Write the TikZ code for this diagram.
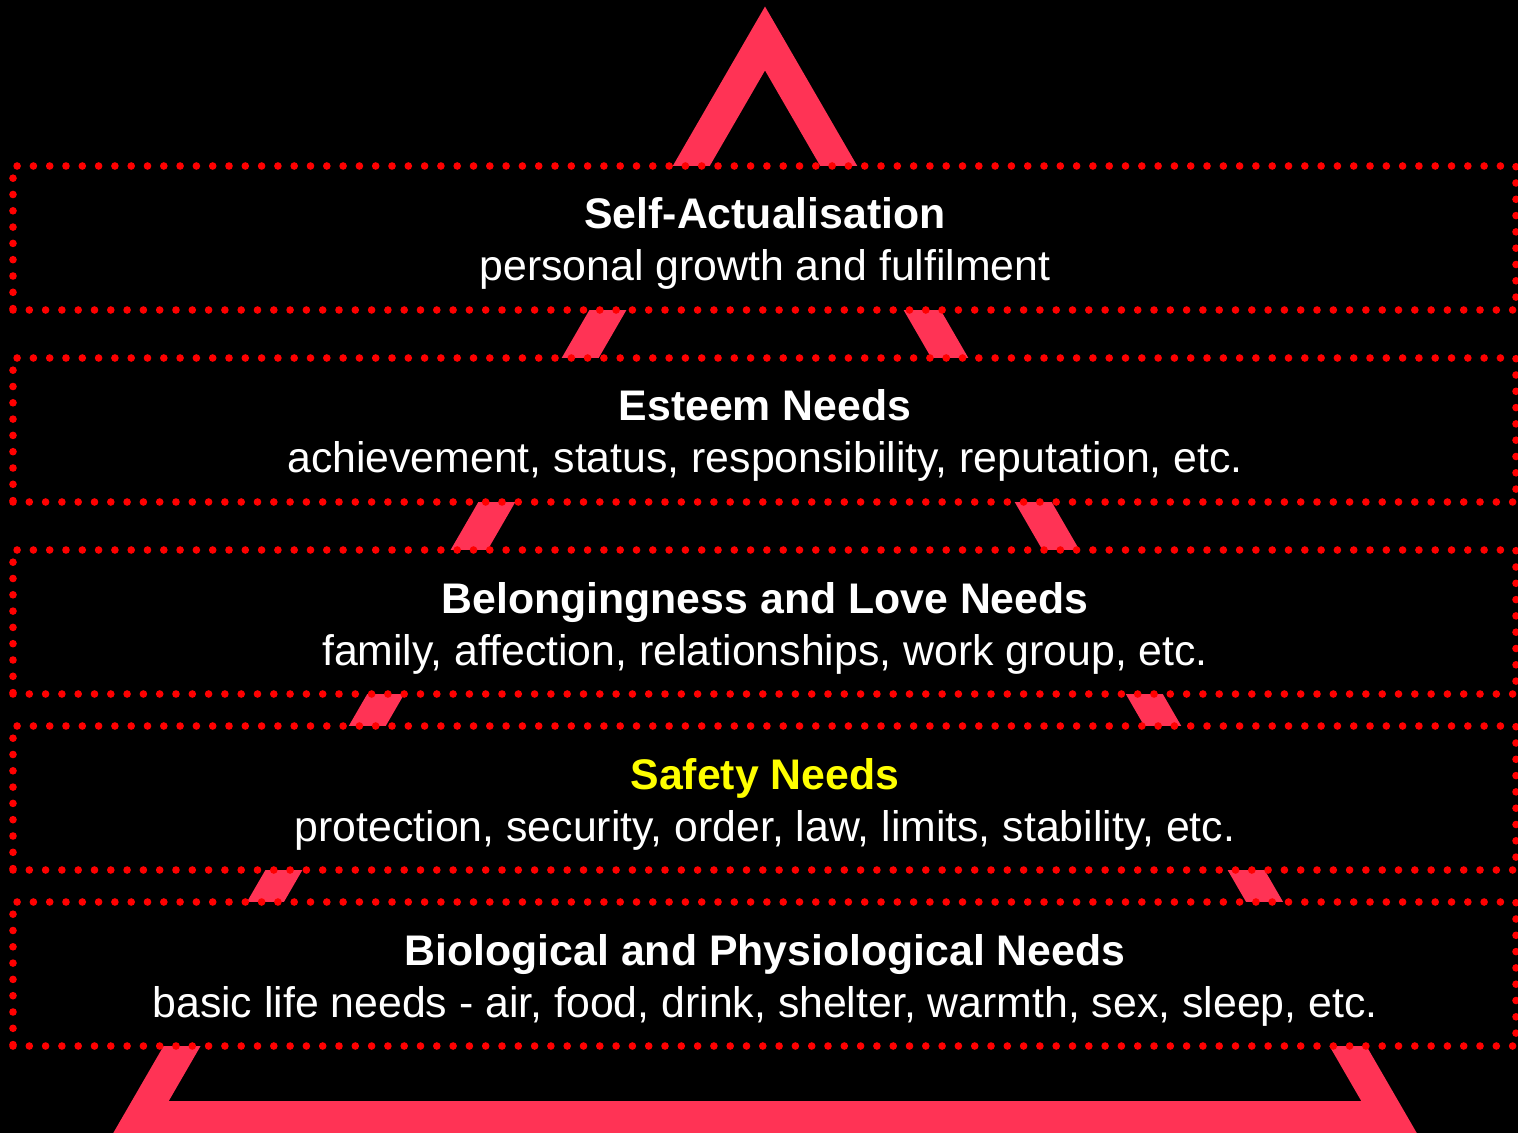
\documentclass[tikz,border=0pt]{standalone}
\usepackage{fontspec}
\setmainfont{Liberation Sans}
\usepackage{xcolor}
\usepackage{tikz}
\definecolor{pyramidred}{RGB}{255,51,85}
\definecolor{dotred}{RGB}{255,0,0}
\definecolor{safetyyellow}{RGB}{255,255,0}
\tikzset{
  tierbox/.style={draw=dotred, fill=black, line width=3.8pt, line cap=round,
                  dash pattern=on 0pt off 8.15pt, minimum width=751.5pt,
                  minimum height=72pt, inner sep=0pt},
  headtext/.style={anchor=base, text=white, inner sep=0pt,
                   font=\fontsize{21.4}{25}\selectfont\bfseries},
  subtext/.style={anchor=base, text=white, inner sep=0pt,
                  font=\fontsize{21.4}{25}\selectfont},
  pyramid/.style={draw=pyramidred, line width=16pt, line join=miter}
}

\begin{document}
\begin{tikzpicture}[x=0.5pt, y=-0.5pt]

% Background
\fill[black] (0,0) rectangle (1518,1133);
\useasboundingbox (0,0) rectangle (1518,1133);

% Pyramid outline (behind the tiers)
\coordinate (apex) at (765,38.5);
\coordinate (baseL) at (141,1117);
\coordinate (baseR) at (1389,1117);
\draw[pyramid] (apex) -- (baseL) -- (baseR) -- cycle;

% Tiers (top to bottom)
\node[tierbox] (self) at (764.5,238) {};
\node[tierbox] (esteem) at (764.5,430) {};
\node[tierbox] (love) at (764.5,622) {};
\node[tierbox] (safety) at (764.5,798) {};
\node[tierbox] (bio) at (764.5,974) {};

% Labels
\node[headtext] (selfH) at (765,229) {Self-Actualisation};
\node[subtext] (selfS) at (765,281) {personal growth and fulfilment};
\node[headtext] (esteemH) at (765,421) {Esteem Needs};
\node[subtext] (esteemS) at (765,473) {achievement, status, responsibility, reputation, etc.};
\node[headtext] (loveH) at (765,613) {Belongingness and Love Needs};
\node[subtext] (loveS) at (765,665) {family, affection, relationships, work group, etc.};
\node[headtext, text=safetyyellow] (safetyH) at (765,789) {Safety Needs};
\node[subtext] (safetyS) at (765,841) {protection, security, order, law, limits, stability, etc.};
\node[headtext] (bioH) at (765,965) {Biological and Physiological Needs};
\node[subtext] (bioS) at (765,1017) {basic life needs - air, food, drink, shelter, warmth, sex, sleep, etc.};

\end{tikzpicture}
\end{document}
